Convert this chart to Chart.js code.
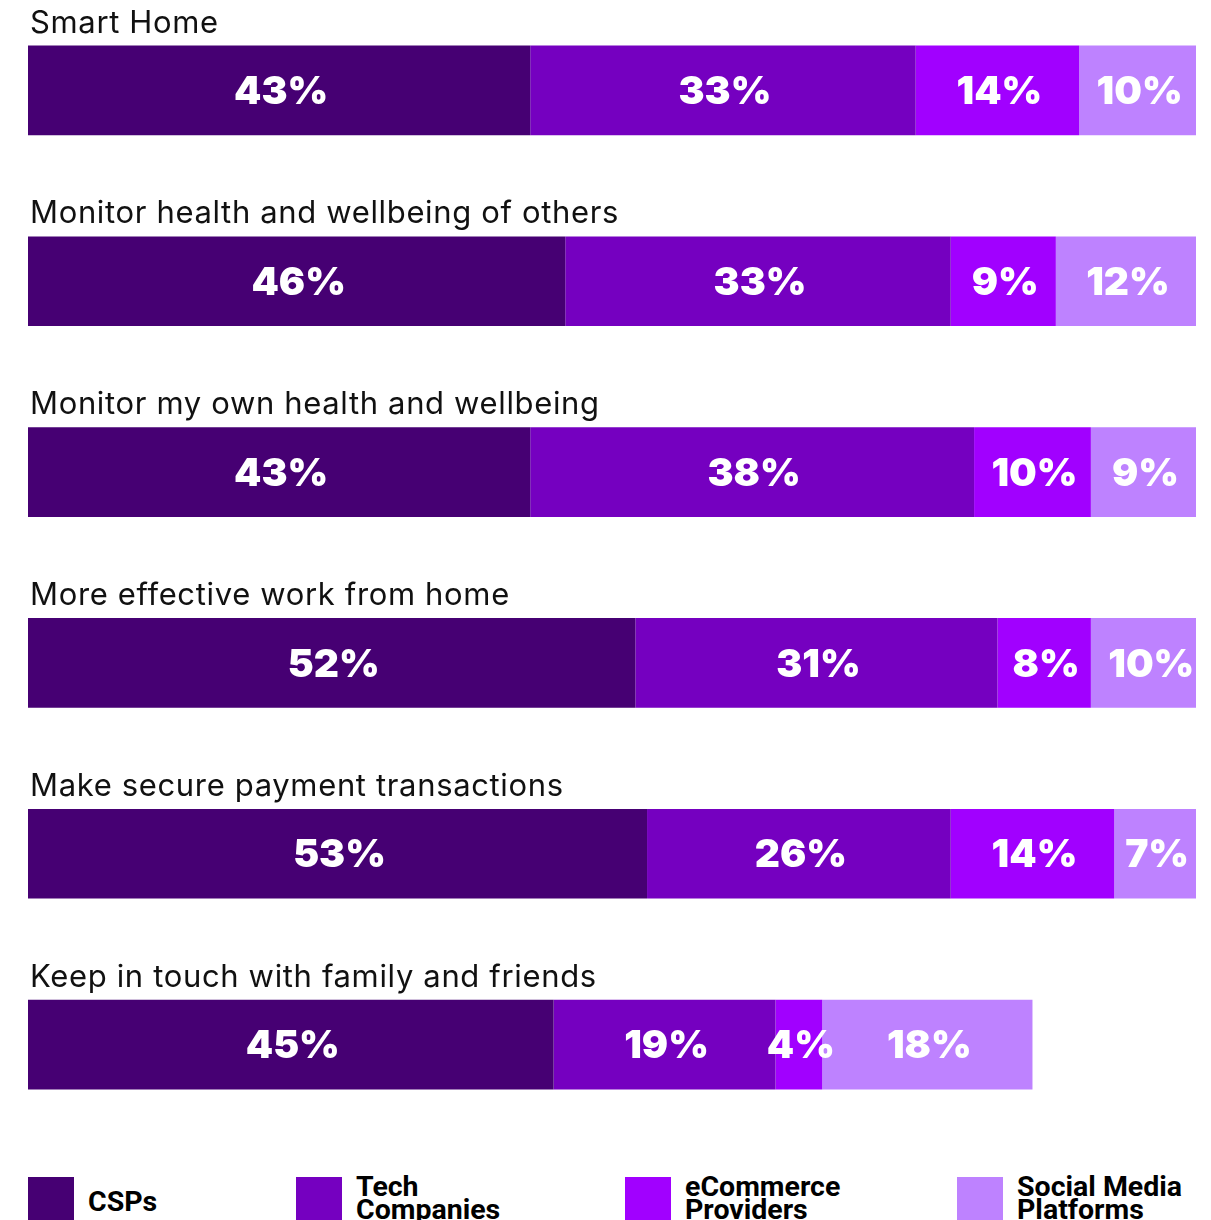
<!DOCTYPE html>
<html>
<head>
<meta charset="utf-8">
<script src="https://cdn.jsdelivr.net/npm/chart.js@4.4.0/dist/chart.umd.min.js"></script>
<style>
  html, body { margin: 0; padding: 0; background: #fff; overflow: hidden; }
  body { width: 1211px; height: 1220px; position: relative; }
  #wrap { position: absolute; left: 0; top: -5px; width: 1211px; height: 1145px; }
  .legend { position: absolute; top: 1177px; left: 0; width: 1211px; font-family: Roboto, sans-serif; font-weight: 700; font-size: 28.5px; line-height: 23px; color: #000; }
  .sw { position: absolute; top: 0; width: 46px; height: 50px; }
  .txt { position: absolute; white-space: nowrap; }
</style>
</head>
<body>
<div id="wrap"><canvas id="myChart"></canvas></div>
<div class="legend" id="legend"></div>

<script type="text/javascript">
  var categories = ['Smart Home', 'Monitor health and wellbeing of others', 'Monitor my own health and wellbeing',
    'More effective work from home', 'Make secure payment transactions', 'Keep in touch with family and friends'];
  var seriesNames = ['CSPs', 'Tech Companies', 'eCommerce Providers', 'Social Media Platforms'];
  var csps = [43, 46, 43, 52, 53, 45];
  var tech = [33, 33, 38, 31, 26, 19];
  var ecommerce = [14, 9, 10, 8, 14, 4];
  var social = [10, 12, 9, 10, 7, 18];
  var colors = ['#460073', '#7500C0', '#A100FF', '#BE82FF'];

  // legend (two-line labels like the original)
  var legendLines = [['CSPs'], ['Tech', 'Companies'], ['eCommerce', 'Providers'], ['Social Media', 'Platforms']];
  var legendX = [28, 296, 625, 957];
  var legend = document.getElementById('legend');
  legendLines.forEach(function(lines, i){
    var sw = document.createElement('div');
    sw.className = 'sw';
    sw.style.left = legendX[i] + 'px';
    sw.style.background = colors[i];
    legend.appendChild(sw);
    var t = document.createElement('div');
    t.className = 'txt';
    t.style.left = (legendX[i] + 60) + 'px';
    t.style.top = lines.length == 1 ? '13px' : '-2px';
    t.innerHTML = lines.join('<br>');
    legend.appendChild(t);
  });

  var labelsPlugin = {
    id: 'labels',
    afterDatasetsDraw: function(chart){
      var ctx = chart.ctx;
      ctx.save();
      // category titles above each bar
      var first = chart.getDatasetMeta(0);
      ctx.fillStyle = '#111';
      ctx.font = '400 31px Inter, sans-serif';
      ctx.letterSpacing = '0.65px';
      ctx.textAlign = 'left';
      ctx.textBaseline = 'alphabetic';
      first.data.forEach(function(bar, i){
        var top = bar.y - bar.height / 2;
        ctx.fillText(categories[i], 30, top - 13);
      });
      // values inside segments
      ctx.letterSpacing = '0px';
      ctx.fillStyle = '#fff';
      ctx.font = '900 39px Inter, sans-serif';
      ctx.textAlign = 'center';
      ctx.textBaseline = 'middle';
      chart.data.datasets.forEach(function(ds, d){
        chart.getDatasetMeta(d).data.forEach(function(bar, i){
          var cx = (bar.base + bar.x) / 2;
          ctx.fillText(ds.data[i] + '%', cx + 2, bar.y + 2);
        });
      });
      ctx.restore();
    }
  };

  var ctx = document.getElementById('myChart').getContext('2d');
  var chart = new Chart(ctx, {
      type: 'bar',
      data: {
          labels: categories,
          datasets: [csps, tech, ecommerce, social].map(function(vals, i){
            return {
              label: seriesNames[i],
              data: vals,
              backgroundColor: colors[i],
              borderWidth: 0,
              categoryPercentage: 1,
              barPercentage: 0.47
            };
          })
      },
      options: {
        indexAxis: 'y',
        responsive: true,
        maintainAspectRatio: false,
        animation: false,
        layout: { padding: { left: 28, right: 15, top: 0, bottom: 0 } },
        plugins: { legend: { display: false }, tooltip: { enabled: false } },
        scales: {
          x: { stacked: true, min: 0, max: 100, display: false },
          y: { stacked: true, display: false }
        }
      },
      plugins: [labelsPlugin]
  });
</script>
</body>
</html>
